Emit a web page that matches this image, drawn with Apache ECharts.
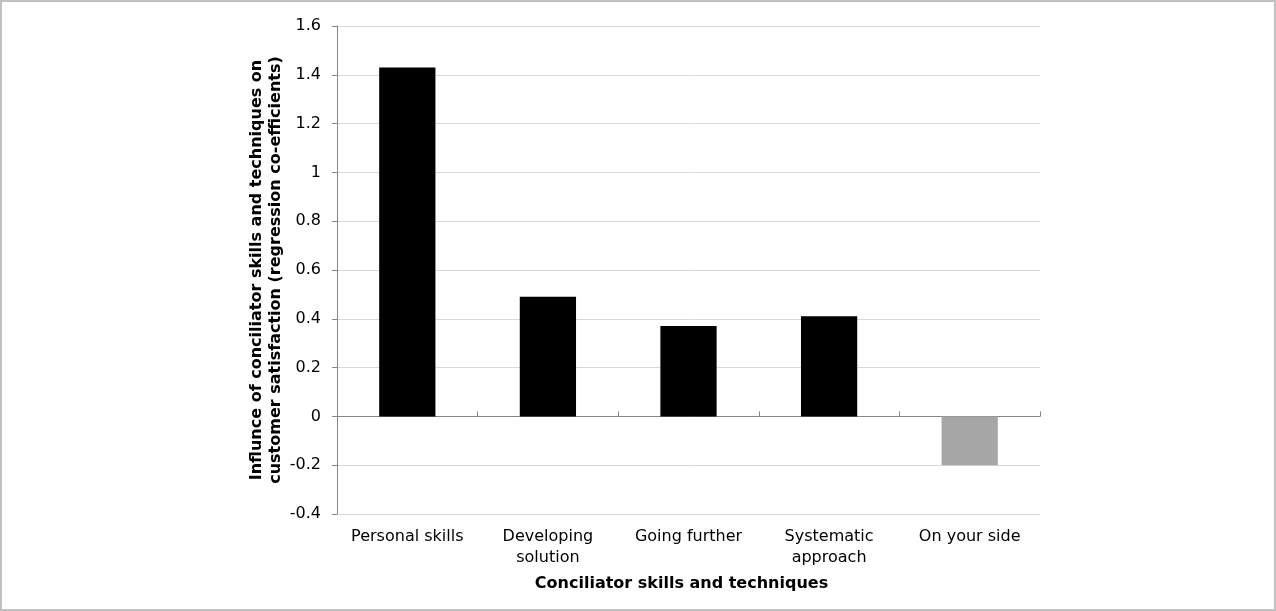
<!DOCTYPE html>
<html>
<head>
<meta charset="utf-8">
<script src="https://cdn.jsdelivr.net/npm/echarts@6/dist/echarts.min.js"></script>
<style>
  html, body { margin: 0; padding: 0; background: #fff; }
  #main { width: 1276px; height: 611px; }
</style>
</head>
<body>
<div id="main"></div>
<script>
// chart data
var categories = ['Personal skills', 'Developing\nsolution', 'Going further', 'Systematic\napproach', 'On your side'];
var coefficients = [1.43, 0.49, 0.37, 0.41, -0.2];
var barColors = ['#000000', '#000000', '#000000', '#000000', '#a6a6a6'];

var font = 'DejaVu Sans';

var myChart = echarts.init(document.getElementById('main'));

var option = {
    animation: false,
    backgroundColor: '#ffffff',
    graphic: [{
        type: 'rect',
        shape: { x: 1, y: 1, width: 1274, height: 609 },
        style: { fill: 'none', stroke: '#c0c0c0', lineWidth: 2 }
    }],
    grid: { left: 337, right: 236, top: 26, bottom: 97 },
    xAxis: [
        {
            type: 'category',
            data: categories,
            position: 'bottom',
            axisLine: { show: false, onZero: false },
            axisTick: { show: false },
            axisLabel: {
                color: '#000', fontFamily: font, fontSize: 16, lineHeight: 21, margin: 12,
                interval: 0, hideOverlap: false
            },
            name: 'Conciliator skills and techniques',
            nameLocation: 'middle',
            nameGap: 62,
            nameMoveOverlap: false,
            nameTextStyle: { color: '#000', fontFamily: font, fontSize: 16, fontWeight: 'bold', padding: [0, 14, 0, 0] }
        },
        {
            type: 'category',
            data: categories,
            position: 'bottom',
            axisLine: { show: true, onZero: true, lineStyle: { color: '#868686', width: 1 } },
            axisTick: { show: true, inside: true, length: 5, lineStyle: { color: '#868686' } },
            axisLabel: { show: false }
        }
    ],
    yAxis: {
        type: 'value',
        min: -0.4,
        max: 1.6,
        interval: 0.2,
        axisLine: { show: true, lineStyle: { color: '#868686', width: 1 } },
        axisTick: { show: true, length: 5, lineStyle: { color: '#868686' } },
        splitLine: { lineStyle: { color: '#d9d9d9', width: 1 } },
        axisLabel: {
            color: '#000', fontFamily: font, fontSize: 16, margin: 16,
            formatter: function (v) { return String(Math.round(v * 10) / 10); }
        },
        name: 'Influnce of conciliator skills and techniques on\ncustomer satisfaction (regression co-efficients)',
        nameLocation: 'middle',
        nameGap: 52,
        nameMoveOverlap: false,
        nameTextStyle: { color: '#000', fontFamily: font, fontSize: 16, fontWeight: 'bold', lineHeight: 19 }
    },
    series: [{
        type: 'bar',
        xAxisIndex: 0,
        barWidth: '40%',
        data: coefficients.map(function (v, i) {
            return { value: v, itemStyle: { color: barColors[i] } };
        })
    }]
};

myChart.setOption(option);
</script>
</body>
</html>
